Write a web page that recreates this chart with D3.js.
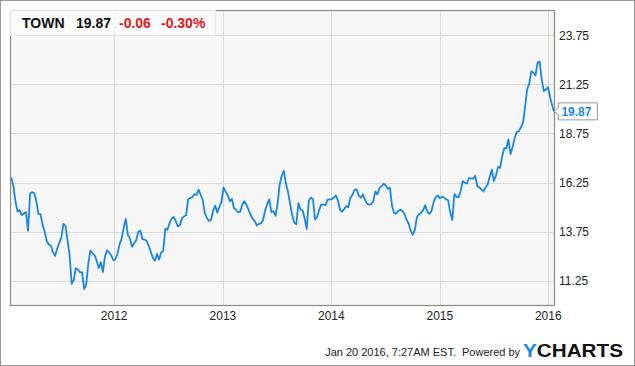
<!DOCTYPE html>
<html>
<head>
<meta charset="utf-8">
<script src="https://cdn.jsdelivr.net/npm/d3@7"></script>
<style>
body { margin: 0; background: #fff; }
svg { display: block; font-family: "Liberation Sans", Arial, sans-serif; }
</style>
</head>
<body>
<script>
// chart values
const symbol = "TOWN";
const lastPrice = "19.87";
const change = "-0.06";
const changePct = "-0.30%";
const yTicks = [11.25, 13.75, 16.25, 18.75, 21.25, 23.75];
const xTicks = [2012, 2013, 2014, 2015, 2016];
const firstDay = "2011-01-20";
const lastDay = "2016-01-20";
const stamp = "Jan 20 2016, 7:27AM EST.";

// weekly closes
const prices = [
  16.5, 16.05, 15.25, 14.78, 14.84, 14.6, 14.68, 14.75, 13.79, 15.7,
  15.75, 15.72, 15.3, 14.66, 14.65, 14.1, 13.75, 13.28, 13.1, 13.05,
  12.7, 12.52, 12.88, 13.17, 13.45, 14.15, 14.05, 13.3, 12.55, 11.1,
  11.3, 11.9, 11.83, 11.68, 11.7, 10.83, 11.1, 12.15, 12.8, 12.66,
  12.55, 12.28, 11.9, 12.2, 11.7, 12.5, 12.8, 12.7, 12.55, 12.3,
  12.35, 12.63, 13.11, 13.4, 13.95, 14.4, 13.58, 13.4, 12.99, 13.16,
  13.32, 13.75, 13.8, 13.37, 13.35, 13.29, 13.05, 12.74, 12.43, 12.28,
  12.62, 12.33, 12.7, 12.77, 13.9, 13.85, 14.18, 14.4, 14.5, 14.3,
  14.02, 14.08, 14.43, 14.53, 14.6, 15.4, 15.46, 15.52, 15.66, 15.62,
  15.89, 15.63, 15.36, 14.7, 14.45, 14.3, 14.35, 14.83, 15.08, 14.72,
  15.02, 15.25, 16.0, 15.79, 15.62, 15.3, 15.42, 14.96, 14.87, 14.74,
  14.77, 15.12, 15.3, 15.12, 14.87, 14.62, 14.4, 14.3, 14.06, 14.15,
  14.17, 14.35, 14.83, 15.15, 15.4, 14.75, 14.8, 14.55, 15.2, 16.15,
  16.6, 16.84, 16.2, 15.78, 15.18, 14.6, 14.22, 14.13, 15.2, 14.88,
  14.84, 14.42, 13.89, 15.33, 15.49, 15.41, 14.38, 14.5, 14.86, 15.13,
  15.13, 15.1, 15.37, 15.4, 15.4, 15.49, 15.6, 15.35, 14.87, 14.77,
  14.9, 15.05, 15.0, 15.48, 15.63, 15.88, 15.91, 15.6, 15.48, 15.64,
  15.38, 15.17, 15.13, 15.15, 15.3, 15.8, 15.65, 15.98, 16.06, 16.19,
  16.1, 15.93, 16.0, 15.07, 14.7, 14.67, 14.81, 14.87, 14.81, 14.65,
  14.36, 14.17, 13.8, 13.6, 13.84, 14.5, 14.63, 14.71, 14.85, 15.1,
  14.76, 14.66, 14.8, 15.25, 15.5, 15.6, 15.46, 15.52, 15.5, 15.39,
  15.35, 14.75, 14.35, 15.66, 15.54, 15.5, 15.8, 16.32, 16.24, 16.2,
  16.47, 16.46, 16.45, 16.6, 16.08, 16.0, 15.9, 15.8, 16.0, 16.15,
  16.55, 16.9, 16.33, 16.6, 17.05, 17.0, 17.6, 18.0, 17.98, 18.45,
  17.7, 18.05, 18.52, 18.83, 18.86, 19.06, 19.3, 20.1, 21.0, 21.28,
  21.9, 21.85, 21.7, 22.35, 22.4, 21.5, 20.9, 20.98, 21.1, 20.6,
  20.2, 19.87
];

const width = 635, height = 366;
const plot = {left: 10.5, top: 10.5, right: 554.5, bottom: 305.5};
const blue = "#1a86e4";

const parse = d3.timeParse("%Y-%m-%d");
let dates = d3.timeDay.range(parse(firstDay), parse(lastDay), 7);
dates.push(parse(lastDay));
const data = prices.map((p, i) => ({date: dates[i], value: p}));

const svg = d3.select("body").append("svg")
  .attr("width", width)
  .attr("height", height);

// outer frame
svg.append("rect")
  .attr("x", 0.5).attr("y", 0.5)
  .attr("width", width - 1).attr("height", height - 1)
  .attr("fill", "#fff")
  .attr("stroke", "#999");

const x = d3.scaleTime()
  .domain([parse("2011-01-17"), parse("2016-01-22")])
  .range([plot.left, plot.right]);

const y = d3.scaleLinear()
  .domain([10, 25])
  .range([plot.bottom, plot.top]);

// plot background
svg.append("rect")
  .attr("x", plot.left).attr("y", plot.top)
  .attr("width", plot.right - plot.left).attr("height", plot.bottom - plot.top)
  .attr("fill", "#f6f6f6");

// grid
svg.append("g")
  .selectAll("line")
  .data(yTicks)
  .enter().append("line")
  .attr("x1", plot.left).attr("x2", plot.right)
  .attr("y1", d => Math.round(y(d)) + 0.5)
  .attr("y2", d => Math.round(y(d)) + 0.5)
  .attr("stroke", "#d9d9d9");

svg.append("g")
  .selectAll("line")
  .data(xTicks)
  .enter().append("line")
  .attr("x1", d => Math.round(x(new Date(d, 0, 1))) + 0.5)
  .attr("x2", d => Math.round(x(new Date(d, 0, 1))) + 0.5)
  .attr("y1", plot.top).attr("y2", plot.bottom)
  .attr("stroke", "#d9d9d9");

// price line
const line = d3.line()
  .x(d => x(d.date))
  .y(d => y(d.value));

svg.append("path")
  .datum(data)
  .attr("d", line)
  .attr("fill", "none")
  .attr("stroke", blue)
  .attr("stroke-width", 1.8)
  .attr("stroke-linejoin", "round");

// plot border
svg.append("rect")
  .attr("x", plot.left).attr("y", plot.top)
  .attr("width", plot.right - plot.left).attr("height", plot.bottom - plot.top)
  .attr("fill", "none")
  .attr("stroke", "#8a8a8a")
  .attr("stroke-width", 1.2);

// right axis labels
svg.append("g")
  .selectAll("text")
  .data(yTicks)
  .enter().append("text")
  .attr("x", 559)
  .attr("y", d => y(d) + 4.5)
  .attr("font-size", 12)
  .attr("fill", "#222")
  .text(d => d3.format(".2f")(d));

// bottom axis labels
svg.append("g")
  .selectAll("text")
  .data(xTicks)
  .enter().append("text")
  .attr("x", d => x(new Date(d, 0, 1)))
  .attr("y", 320)
  .attr("text-anchor", "middle")
  .attr("font-size", 12)
  .attr("fill", "#222")
  .text(d => d);

// header box
svg.append("rect")
  .attr("x", plot.left).attr("y", plot.top)
  .attr("width", 205).attr("height", 25)
  .attr("fill", "#fff")
  .attr("fill-opacity", 0.55)
  .attr("stroke", "#e4e4e4");

const head = [
  {t: symbol, x: 22, c: "#111"},
  {t: lastPrice, x: 76, c: "#111"},
  {t: change, x: 119, c: "#e8161b"},
  {t: changePct, x: 161, c: "#e8161b"}
];
svg.append("g")
  .selectAll("text")
  .data(head)
  .enter().append("text")
  .attr("x", d => d.x)
  .attr("y", 28)
  .attr("font-size", 14)
  .attr("font-weight", "bold")
  .attr("fill", d => d.c)
  .text(d => d.t);

// last value flag
const last = data[data.length - 1];
const tipX = x(last.date) + 0.5, tipY = y(last.value);
svg.append("path")
  .attr("d", `M${tipX},${tipY} L${tipX + 4},${tipY - 4} L${tipX + 4},${tipY - 8.5} L${tipX + 43},${tipY - 8.5} L${tipX + 43},${tipY + 8.5} L${tipX + 4},${tipY + 8.5} L${tipX + 4},${tipY + 4} Z`)
  .attr("fill", "#fff")
  .attr("stroke", "#9a9a9a");

svg.append("text")
  .attr("x", tipX + 7)
  .attr("y", tipY + 4.5)
  .attr("font-size", 12)
  .attr("font-weight", "bold")
  .attr("fill", blue)
  .text(d3.format(".2f")(last.value));

// footer
svg.append("text")
  .attr("x", 456).attr("y", 356)
  .attr("text-anchor", "end")
  .attr("font-size", 11)
  .attr("fill", "#222")
  .text(stamp);

svg.append("text")
  .attr("x", 462).attr("y", 356)
  .attr("font-size", 11)
  .attr("fill", "#222")
  .text("Powered by");

const logo = svg.append("text")
  .attr("x", 523).attr("y", 357)
  .attr("font-size", 19)
  .attr("font-weight", "bold")
  .attr("textLength", 100)
  .attr("lengthAdjust", "spacingAndGlyphs");
logo.append("tspan").attr("fill", blue).text("Y");
logo.append("tspan").attr("fill", "#111").text("CHARTS");
</script>
</body>
</html>
